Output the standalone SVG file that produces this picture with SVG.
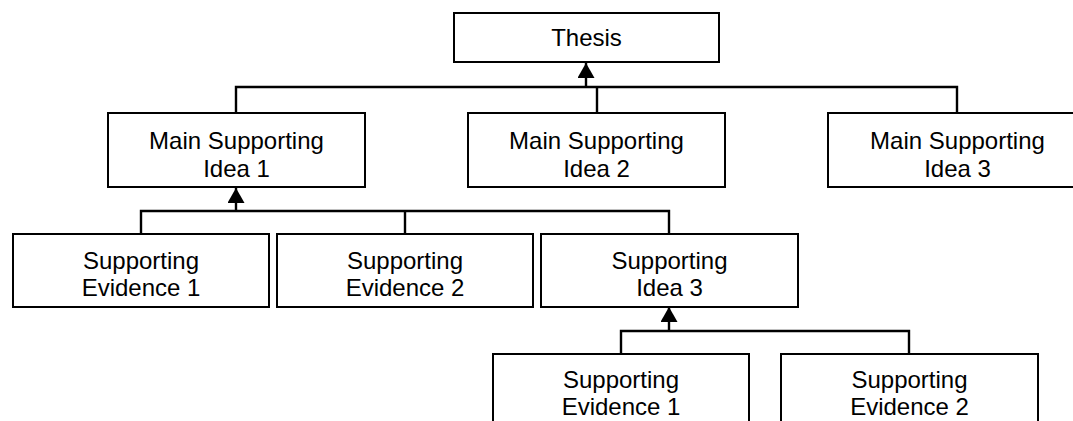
<svg xmlns="http://www.w3.org/2000/svg" width="1073" height="421" viewBox="0 0 1073 421">
<defs>
<style>
.box{fill:#fff;stroke:#000;stroke-width:2}
.lbl{font-family:"Liberation Sans",Arial,sans-serif;font-size:24px;fill:#000;text-anchor:middle}
.con{fill:none;stroke:#000;stroke-width:2.4}
</style>
<marker id="ah" viewBox="0 0 15 17" refX="15" refY="8.5" markerWidth="15" markerHeight="17" markerUnits="userSpaceOnUse" orient="auto">
<path d="M0,0 L15,8.5 L0,17 Z" fill="#000"/>
</marker>
</defs>
<rect width="1073" height="421" fill="#fff"/>
<g id="connectors">
<path class="con" d="M236,113 V87 H957 V113 M597,87 V113"/>
<path class="con" d="M586,87 V63" marker-end="url(#ah)"/>
<path class="con" d="M141,234 V211 H669 V234 M405,211 V234"/>
<path class="con" d="M236,211 V188" marker-end="url(#ah)"/>
<path class="con" d="M621,354 V331 H909 V354"/>
<path class="con" d="M669,331 V307" marker-end="url(#ah)"/>
</g>
<g id="thesis">
<rect class="box" x="454" y="13" width="265" height="49"/>
<text class="lbl" x="586.5" y="46">Thesis</text>
</g>
<g id="main1">
<rect class="box" x="108" y="113" width="257" height="74"/>
<text class="lbl" x="236.5" y="149">Main Supporting</text>
<text class="lbl" x="236.5" y="177">Idea 1</text>
</g>
<g id="main2">
<rect class="box" x="468" y="113" width="257" height="74"/>
<text class="lbl" x="596.5" y="149">Main Supporting</text>
<text class="lbl" x="596.5" y="177">Idea 2</text>
</g>
<g id="main3">
<rect class="box" x="828" y="113" width="258" height="74"/>
<text class="lbl" x="957.5" y="149">Main Supporting</text>
<text class="lbl" x="957.5" y="177">Idea 3</text>
</g>
<g id="ev1">
<rect class="box" x="13" y="234" width="256" height="73"/>
<text class="lbl" x="141" y="269">Supporting</text>
<text class="lbl" x="141" y="296">Evidence 1</text>
</g>
<g id="ev2">
<rect class="box" x="277" y="234" width="256" height="73"/>
<text class="lbl" x="405" y="269">Supporting</text>
<text class="lbl" x="405" y="296">Evidence 2</text>
</g>
<g id="idea3">
<rect class="box" x="541" y="234" width="257" height="73"/>
<text class="lbl" x="669.5" y="269">Supporting</text>
<text class="lbl" x="669.5" y="296">Idea 3</text>
</g>
<g id="sub-ev1">
<rect class="box" x="493" y="354" width="256" height="74"/>
<text class="lbl" x="621" y="388">Supporting</text>
<text class="lbl" x="621" y="415">Evidence 1</text>
</g>
<g id="sub-ev2">
<rect class="box" x="781" y="354" width="257" height="74"/>
<text class="lbl" x="909.5" y="388">Supporting</text>
<text class="lbl" x="909.5" y="415">Evidence 2</text>
</g>
</svg>
